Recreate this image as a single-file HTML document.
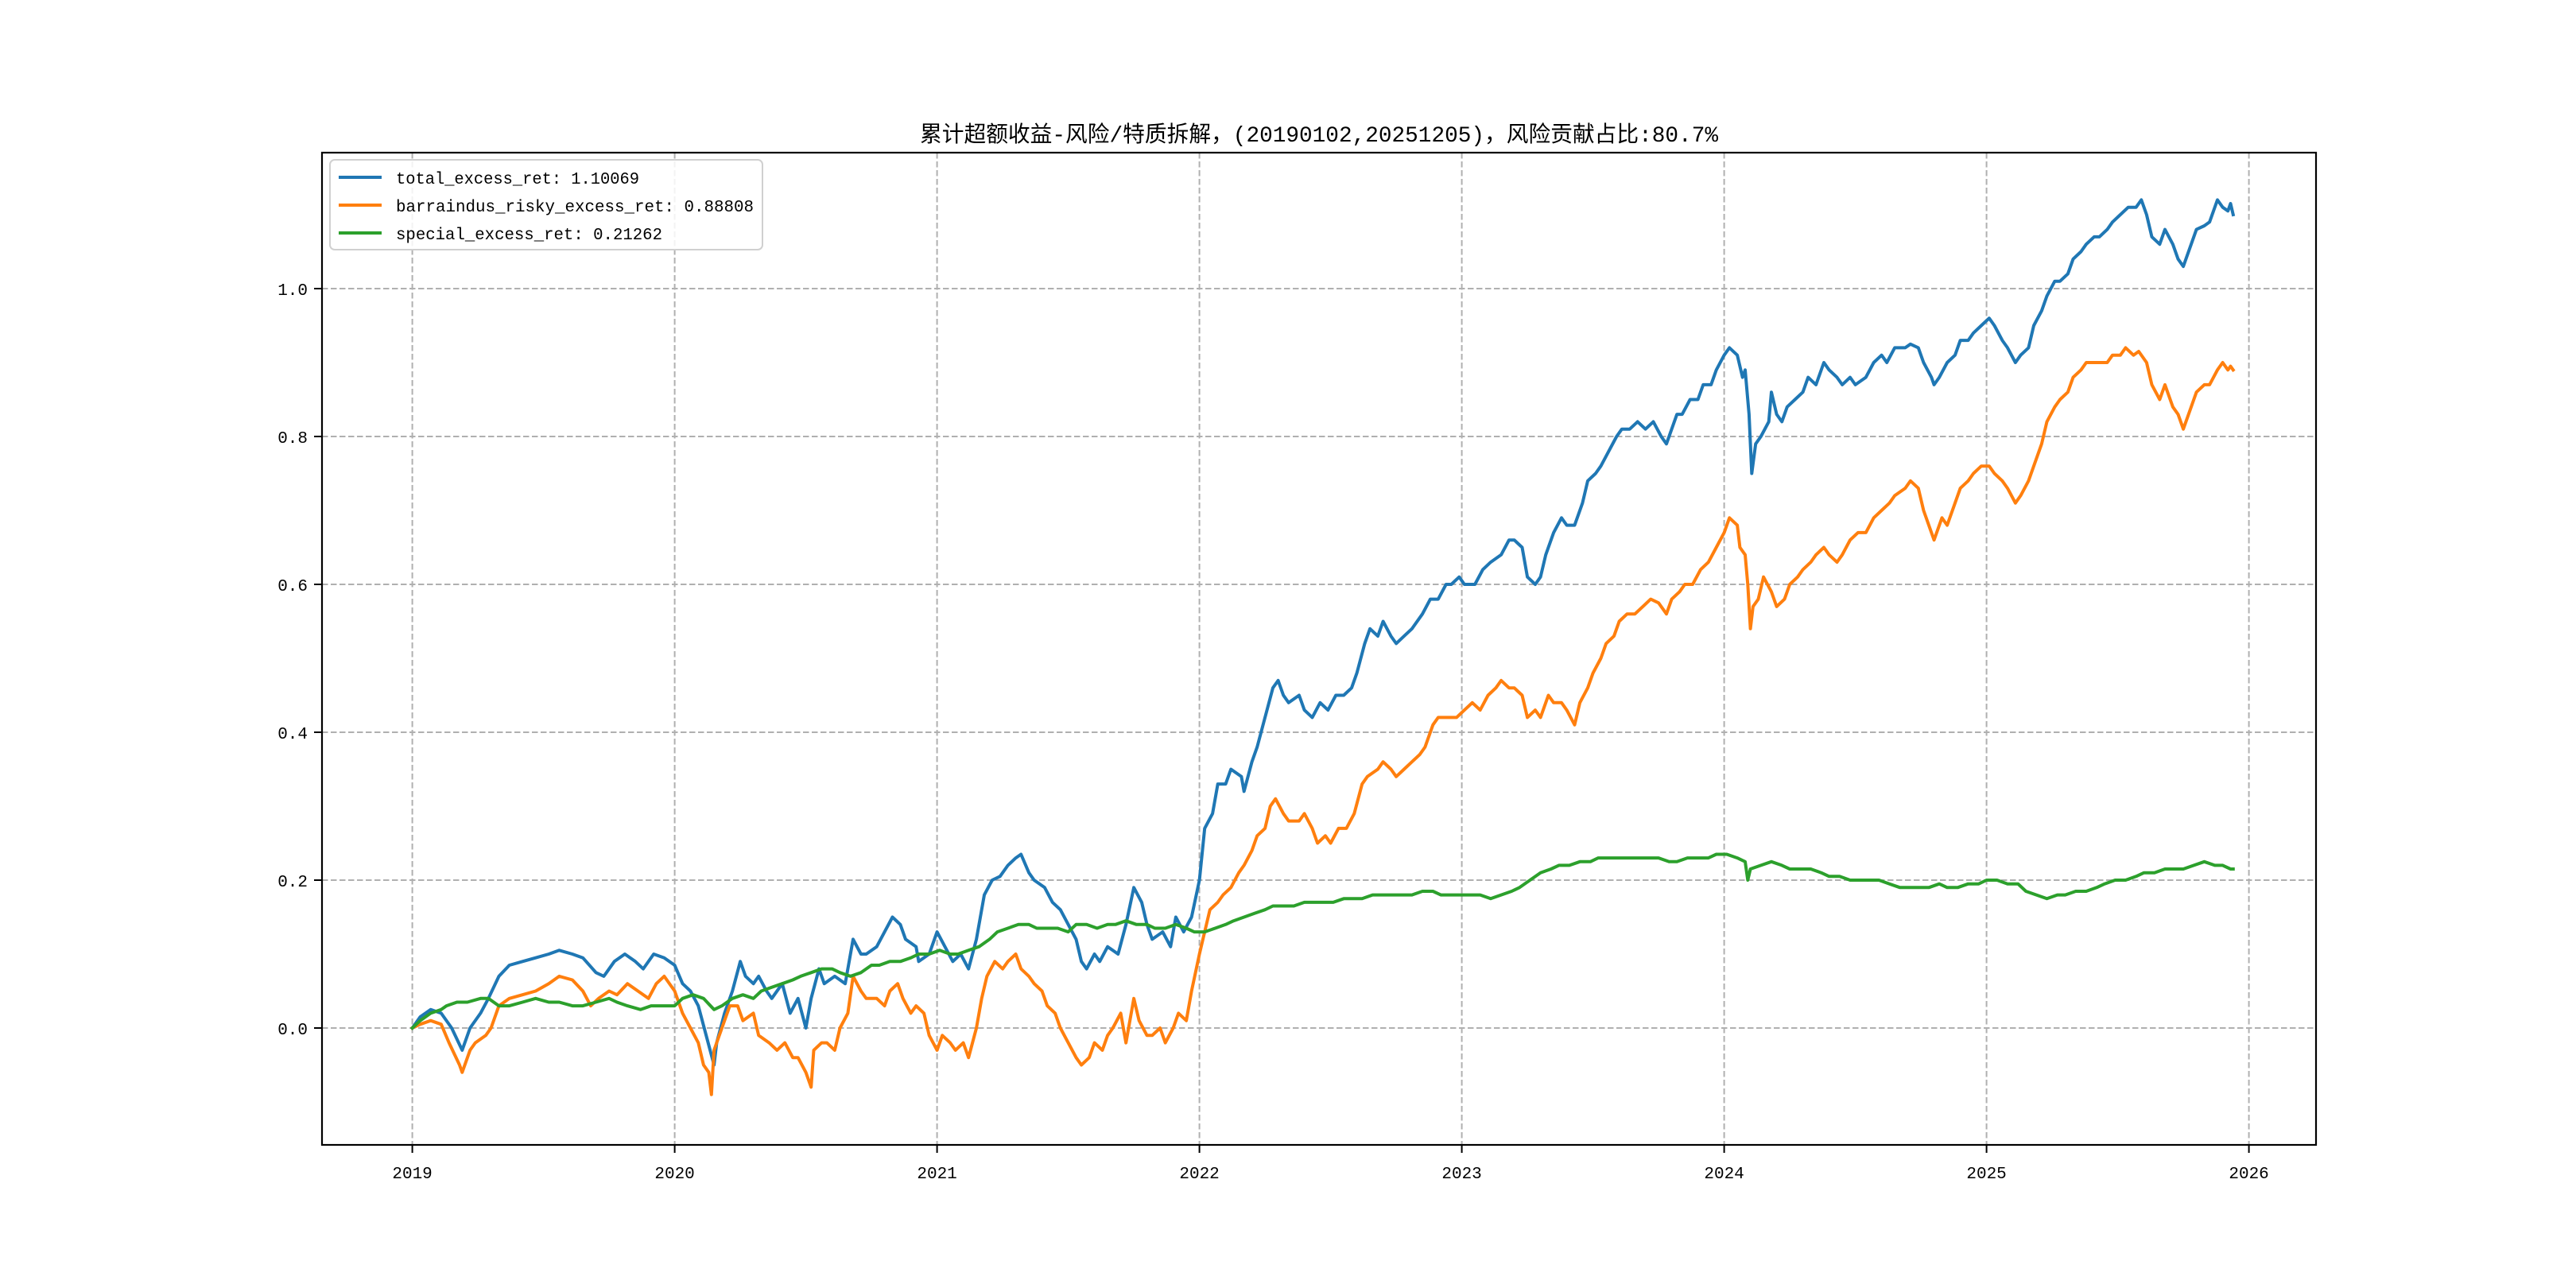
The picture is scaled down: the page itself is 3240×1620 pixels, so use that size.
<!DOCTYPE html>
<html><head><meta charset="utf-8"><title>累计超额收益</title>
<style>html,body{margin:0;padding:0;background:#fff;}svg{display:block;}</style></head>
<body>
<svg id="chart" xmlns="http://www.w3.org/2000/svg" width="3240" height="1620" viewBox="0 0 3240 1620">
<rect x="0" y="0" width="3240" height="1620" fill="#fff"/>
<text x="1659" y="178" text-anchor="middle" font-size="28" textLength="1004" lengthAdjust="spacingAndGlyphs" font-family="'Liberation Mono','Noto Sans CJK SC',sans-serif" fill="#000">累计超额收益-风险/特质拆解，(20190102,20251205)，风险贡献占比:80.7%</text>
<g id="grid"></g>
<g id="series"></g>
<rect x="405" y="192" width="2508" height="1248" fill="none" stroke="#000" stroke-width="2.2"/>
<g id="axes"></g>
<g id="legend">
<rect x="415" y="201" width="544" height="113" rx="6" fill="#fff" fill-opacity="0.85" stroke="#d0d0d0" stroke-width="2"/>
<line x1="426" y1="223" x2="480" y2="223" stroke="#1f77b4" stroke-width="4"/>
<text x="498" y="231" font-size="21" textLength="306" lengthAdjust="spacingAndGlyphs" font-family="'Liberation Mono',monospace">total_excess_ret: 1.10069</text>
<line x1="426" y1="258" x2="480" y2="258" stroke="#ff7f0e" stroke-width="4"/>
<text x="498" y="266" font-size="21" textLength="450" lengthAdjust="spacingAndGlyphs" font-family="'Liberation Mono',monospace">barraindus_risky_excess_ret: 0.88808</text>
<line x1="426" y1="293" x2="480" y2="293" stroke="#2ca02c" stroke-width="4"/>
<text x="498" y="301" font-size="21" textLength="335" lengthAdjust="spacingAndGlyphs" font-family="'Liberation Mono',monospace">special_excess_ret: 0.21262</text>
</g>
</svg>
<script>
// x values are years since 2019-01-01
const xTickLabels = ["2019","2020","2021","2022","2023","2024","2025","2026"];
const xTickValues = [0,1,2,3,4,5,6,7];
const yTickValues = [0.0,0.2,0.4,0.6,0.8,1.0];
const yTickLabels = ["0.0","0.2","0.4","0.6","0.8","1.0"];

const totalT = [0,.03,.07,.11,.15,.19,.22,.26,.29,.33,.37,.42,.47,.52,.56,.61,.65,.70,.73,.77,.81,.85,.88,.92,.96,1.00,1.03,1.06,1.09,1.12,1.15,1.16,1.19,1.22,1.25,1.27,1.30,1.32,1.35,1.37,1.41,1.44,1.47,1.50,1.52,1.55,1.57,1.61,1.65,1.68,1.71,1.73,1.77,1.80,1.83,1.86,1.88,1.92,1.93,1.97,2.00,2.03,2.06,2.09,2.12,2.15,2.18,2.21,2.24,2.27,2.30,2.32,2.35,2.37,2.41,2.44,2.47,2.50,2.53,2.55,2.57,2.60,2.62,2.65,2.69,2.72,2.75,2.78,2.80,2.82,2.86,2.89,2.91,2.94,2.97,3.00,3.02,3.05,3.07,3.10,3.12,3.16,3.17,3.20,3.22,3.25,3.28,3.30,3.32,3.34,3.38,3.40,3.43,3.46,3.49,3.52,3.55,3.58,3.60,3.63,3.65,3.68,3.70,3.73,3.75,3.78,3.81,3.85,3.88,3.91,3.94,3.96,3.99,4.01,4.05,4.08,4.11,4.15,4.18,4.20,4.23,4.25,4.28,4.30,4.32,4.35,4.38,4.40,4.43,4.46,4.48,4.51,4.53,4.56,4.59,4.61,4.64,4.67,4.70,4.73,4.76,4.78,4.82,4.84,4.87,4.90,4.92,4.95,4.97,5.00,5.02,5.05,5.07,5.08,5.095,5.105,5.12,5.14,5.17,5.18,5.20,5.22,5.24,5.27,5.30,5.32,5.35,5.38,5.40,5.43,5.45,5.48,5.50,5.54,5.57,5.60,5.62,5.65,5.69,5.71,5.74,5.76,5.79,5.80,5.82,5.85,5.88,5.90,5.93,5.95,5.98,6.01,6.03,6.06,6.08,6.11,6.13,6.16,6.18,6.21,6.23,6.26,6.28,6.31,6.33,6.36,6.38,6.41,6.43,6.46,6.48,6.51,6.54,6.57,6.59,6.61,6.63,6.66,6.68,6.71,6.73,6.75,6.78,6.80,6.83,6.85,6.88,6.90,6.92,6.93,6.94];
const totalV = [0,.015,.025,.02,0,-.03,0,.02,.04,.07,.085,.09,.095,.1,.105,.1,.095,.075,.07,.09,.1,.09,.08,.1,.095,.085,.06,.05,.03,-.01,-.05,-.02,.02,.05,.09,.07,.06,.07,.05,.04,.06,.02,.04,0,.04,.08,.06,.07,.06,.12,.1,.1,.11,.13,.15,.14,.12,.11,.09,.1,.13,.11,.09,.1,.08,.12,.18,.2,.205,.22,.23,.235,.21,.2,.19,.17,.16,.14,.12,.09,.08,.1,.09,.11,.1,.14,.19,.17,.14,.12,.13,.11,.15,.13,.15,.2,.27,.29,.33,.33,.35,.34,.32,.36,.38,.42,.46,.47,.45,.44,.45,.43,.42,.44,.43,.45,.45,.46,.48,.52,.54,.53,.55,.53,.52,.53,.54,.56,.58,.58,.6,.6,.61,.6,.6,.62,.63,.64,.66,.66,.65,.61,.6,.61,.64,.67,.69,.68,.68,.71,.74,.75,.76,.78,.8,.81,.81,.82,.81,.82,.8,.79,.83,.83,.85,.85,.87,.87,.89,.91,.92,.91,.88,.89,.83,.75,.79,.8,.82,.86,.83,.82,.84,.85,.86,.88,.87,.9,.89,.88,.87,.88,.87,.88,.9,.91,.9,.92,.92,.925,.92,.9,.88,.87,.88,.9,.91,.93,.93,.94,.95,.96,.95,.93,.92,.9,.91,.92,.95,.97,.99,1.01,1.01,1.02,1.04,1.05,1.06,1.07,1.07,1.08,1.09,1.1,1.11,1.11,1.12,1.1,1.07,1.06,1.08,1.06,1.04,1.03,1.06,1.08,1.085,1.09,1.12,1.11,1.105,1.115,1.1];

const riskyT = [0,.03,.07,.11,.14,.18,.19,.22,.24,.28,.30,.33,.37,.42,.47,.52,.56,.61,.65,.68,.71,.75,.78,.82,.86,.90,.93,.96,1.00,1.03,1.06,1.09,1.11,1.13,1.14,1.15,1.18,1.21,1.24,1.26,1.30,1.32,1.36,1.39,1.42,1.45,1.47,1.50,1.52,1.53,1.56,1.58,1.61,1.63,1.66,1.68,1.71,1.73,1.77,1.80,1.82,1.85,1.87,1.90,1.92,1.95,1.97,2.00,2.02,2.05,2.07,2.10,2.12,2.15,2.17,2.19,2.22,2.25,2.27,2.30,2.32,2.35,2.37,2.40,2.42,2.45,2.47,2.50,2.53,2.55,2.58,2.60,2.63,2.65,2.67,2.70,2.72,2.75,2.77,2.80,2.82,2.85,2.87,2.90,2.92,2.95,2.97,3.00,3.02,3.04,3.07,3.09,3.12,3.15,3.17,3.20,3.22,3.25,3.27,3.29,3.32,3.34,3.38,3.40,3.43,3.45,3.48,3.50,3.53,3.56,3.59,3.62,3.64,3.68,3.70,3.73,3.75,3.78,3.81,3.84,3.86,3.89,3.91,3.94,3.98,4.01,4.04,4.07,4.10,4.13,4.15,4.18,4.20,4.23,4.25,4.28,4.30,4.33,4.35,4.38,4.40,4.43,4.45,4.48,4.50,4.53,4.55,4.58,4.60,4.63,4.66,4.69,4.72,4.75,4.78,4.80,4.83,4.85,4.88,4.91,4.94,4.97,5.00,5.02,5.05,5.06,5.08,5.09,5.10,5.11,5.13,5.15,5.18,5.20,5.23,5.25,5.28,5.30,5.33,5.35,5.38,5.40,5.43,5.45,5.48,5.51,5.54,5.57,5.60,5.63,5.65,5.69,5.71,5.74,5.76,5.79,5.80,5.83,5.85,5.88,5.90,5.93,5.95,5.98,6.01,6.03,6.06,6.08,6.11,6.13,6.16,6.18,6.21,6.23,6.26,6.28,6.31,6.33,6.36,6.38,6.41,6.43,6.46,6.48,6.51,6.53,6.56,6.58,6.61,6.63,6.66,6.68,6.71,6.73,6.75,6.78,6.80,6.83,6.85,6.88,6.90,6.92,6.93,6.94];
const riskyV = [0,.005,.01,.005,-.02,-.05,-.06,-.03,-.02,-.01,0,.03,.04,.045,.05,.06,.07,.065,.05,.03,.04,.05,.045,.06,.05,.04,.06,.07,.05,.02,0,-.02,-.05,-.06,-.09,-.03,0,.03,.03,.01,.02,-.01,-.02,-.03,-.02,-.04,-.04,-.06,-.08,-.03,-.02,-.02,-.03,0,.02,.07,.05,.04,.04,.03,.05,.06,.04,.02,.03,.02,-.01,-.03,-.01,-.02,-.03,-.02,-.04,0,.04,.07,.09,.08,.09,.1,.08,.07,.06,.05,.03,.02,0,-.02,-.04,-.05,-.04,-.02,-.03,-.01,0,.02,-.02,.04,.01,-.01,-.01,0,-.02,0,.02,.01,.05,.1,.13,.16,.17,.18,.19,.21,.22,.24,.26,.27,.3,.31,.29,.28,.28,.29,.27,.25,.26,.25,.27,.27,.29,.33,.34,.35,.36,.35,.34,.35,.36,.37,.38,.41,.42,.42,.42,.43,.44,.43,.45,.46,.47,.46,.46,.45,.42,.43,.42,.45,.44,.44,.43,.41,.44,.46,.48,.5,.52,.53,.55,.56,.56,.57,.58,.575,.56,.58,.59,.6,.6,.62,.63,.65,.67,.69,.68,.65,.64,.6,.54,.57,.58,.61,.59,.57,.58,.6,.61,.62,.63,.64,.65,.64,.63,.64,.66,.67,.67,.69,.7,.71,.72,.73,.74,.73,.7,.67,.66,.69,.68,.71,.73,.74,.75,.76,.76,.75,.74,.73,.71,.72,.74,.76,.79,.82,.84,.85,.86,.88,.89,.9,.9,.9,.9,.91,.91,.92,.91,.915,.9,.87,.85,.87,.84,.83,.81,.84,.86,.87,.87,.89,.9,.89,.895,.89];

const specialT = [0,.03,.07,.11,.13,.17,.21,.26,.29,.33,.37,.42,.47,.52,.56,.61,.65,.70,.75,.78,.82,.87,.91,.96,1.00,1.03,1.07,1.11,1.15,1.18,1.22,1.26,1.30,1.33,1.37,1.41,1.45,1.48,1.52,1.56,1.60,1.63,1.67,1.71,1.75,1.78,1.82,1.86,1.90,1.93,1.97,2.01,2.05,2.08,2.12,2.16,2.20,2.23,2.27,2.31,2.35,2.38,2.42,2.46,2.50,2.53,2.57,2.61,2.65,2.68,2.72,2.76,2.80,2.83,2.87,2.91,2.95,2.98,3.02,3.06,3.10,3.13,3.17,3.21,3.25,3.28,3.32,3.36,3.40,3.44,3.47,3.51,3.55,3.59,3.62,3.66,3.70,3.74,3.77,3.81,3.85,3.89,3.92,3.96,4.00,4.04,4.07,4.11,4.15,4.19,4.22,4.26,4.30,4.34,4.37,4.41,4.45,4.49,4.52,4.56,4.60,4.64,4.67,4.71,4.75,4.79,4.82,4.86,4.90,4.94,4.97,5.01,5.05,5.08,5.09,5.10,5.14,5.18,5.22,5.25,5.29,5.33,5.37,5.40,5.44,5.48,5.52,5.55,5.59,5.63,5.67,5.70,5.74,5.78,5.82,5.85,5.89,5.93,5.97,6.00,6.04,6.08,6.12,6.15,6.19,6.23,6.27,6.30,6.34,6.38,6.42,6.45,6.49,6.53,6.57,6.60,6.64,6.68,6.72,6.75,6.79,6.83,6.87,6.90,6.93,6.94];
const specialV = [0,.01,.02,.025,.03,.035,.035,.04,.04,.03,.03,.035,.04,.035,.035,.03,.03,.035,.04,.035,.03,.025,.03,.03,.03,.04,.045,.04,.025,.03,.04,.045,.04,.05,.055,.06,.065,.07,.075,.08,.08,.075,.07,.075,.085,.085,.09,.09,.095,.1,.1,.105,.1,.1,.105,.11,.12,.13,.135,.14,.14,.135,.135,.135,.13,.14,.14,.135,.14,.14,.145,.14,.14,.135,.135,.14,.135,.13,.13,.135,.14,.145,.15,.155,.16,.165,.165,.165,.17,.17,.17,.17,.175,.175,.175,.18,.18,.18,.18,.18,.185,.185,.18,.18,.18,.18,.18,.175,.18,.185,.19,.2,.21,.215,.22,.22,.225,.225,.23,.23,.23,.23,.23,.23,.23,.225,.225,.23,.23,.23,.235,.235,.23,.225,.2,.215,.22,.225,.22,.215,.215,.215,.21,.205,.205,.2,.2,.2,.2,.195,.19,.19,.19,.19,.195,.19,.19,.195,.195,.2,.2,.195,.195,.185,.18,.175,.18,.18,.185,.185,.19,.195,.2,.2,.205,.21,.21,.215,.215,.215,.22,.225,.22,.22,.215,.215];

const NS = "http://www.w3.org/2000/svg";
const L = 405, R = 2913, T = 192, B = 1440;
function xScale(t){ return 518.6 + t * 330; }
function yScale(v){ return 1293 - v * 930; }
function mk(tag, attrs, parent){
  const el = document.createElementNS(NS, tag);
  for (const k in attrs) el.setAttribute(k, attrs[k]);
  parent.appendChild(el);
  return el;
}
const grid = document.getElementById('grid');
const axes = document.getElementById('axes');
const series = document.getElementById('series');

xTickValues.forEach((v, i) => {
  const x = xScale(v);
  const g = mk('line', {x1:x, y1:T, x2:x, y2:B, stroke:'#b0b0b0', 'stroke-width':2, 'stroke-dasharray':'7.5,3.5'}, grid);
  
  
  const tk = mk('line', {x1:x, y1:B, x2:x, y2:B+10, stroke:'#000', 'stroke-width':2}, axes);
  
  
  const tx = mk('text', {x:x, y:B+42, 'text-anchor':'middle', 'font-size':21, 'font-family':"'Liberation Mono',monospace"}, axes);
  tx.textContent = xTickLabels[i];
  
  
});
yTickValues.forEach((v, i) => {
  const y = yScale(v);
  const g = mk('line', {x1:L, y1:y, x2:R, y2:y, stroke:'#b0b0b0', 'stroke-width':2, 'stroke-dasharray':'7.5,3.5'}, grid);
  
  
  const tk = mk('line', {x1:L-10, y1:y, x2:L, y2:y, stroke:'#000', 'stroke-width':2}, axes);
  
  
  const tx = mk('text', {x:L-18, y:y+8, 'text-anchor':'end', 'font-size':21, 'font-family':"'Liberation Mono',monospace"}, axes);
  tx.textContent = yTickLabels[i];
  
  
});

function drawLine(ts, vs, color, name){
  const n = Math.min(ts.length, vs.length);
  let d = '';
  for (let i = 0; i < n; i++) d += (i ? 'L' : 'M') + xScale(ts[i]).toFixed(1) + ',' + yScale(vs[i]).toFixed(1);
  const p = mk('path', {d:d, fill:'none', stroke:color, 'stroke-width':4, 'stroke-linejoin':'round', 'stroke-linecap':'square'}, series);
  
  
}
drawLine(totalT, totalV, '#1f77b4', 'total-excess-ret-line');
drawLine(riskyT, riskyV, '#ff7f0e', 'barraindus-risky-excess-ret-line');
drawLine(specialT, specialV, '#2ca02c', 'special-excess-ret-line');
</script>
</body></html>
